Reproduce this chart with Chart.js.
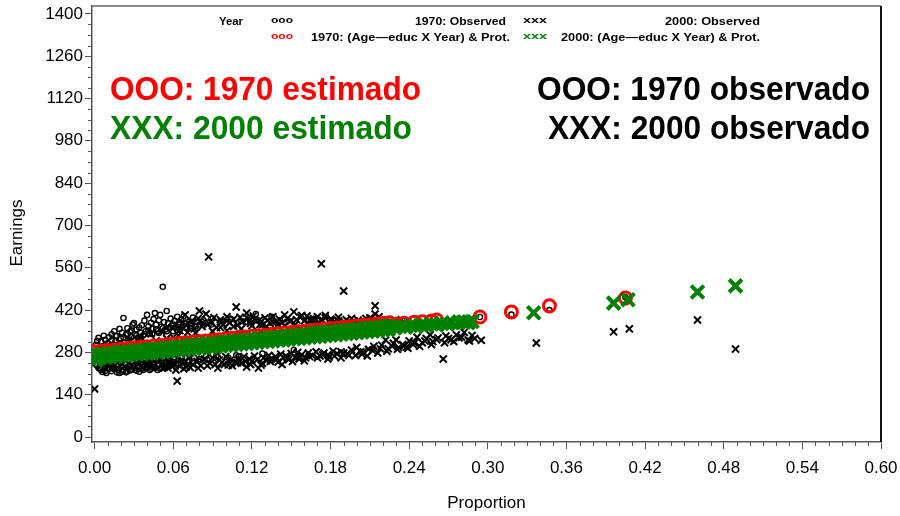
<!DOCTYPE html>
<html>
<head>
<meta charset="utf-8">
<script src="https://cdn.jsdelivr.net/npm/chart.js@4.4.1/dist/chart.umd.min.js"></script>
<style>
html, body { margin: 0; padding: 0; background: #fff; }
</style>
</head>
<body>
<canvas id="grafico" width="900" height="516"></canvas>
<script>
// Marcas dos eixos
const ticksX = [0.00, 0.06, 0.12, 0.18, 0.24, 0.30, 0.36, 0.42, 0.48, 0.54, 0.60];
const ticksY = [0, 140, 280, 420, 560, 700, 840, 980, 1120, 1260, 1400];

// 2000: (Age-educ X Year) & Prot. -- estimado (X verde)
const est2000 = [
  [0.001,254],[0.000,260],[0.002,273],[0.004,262],[0.006,275],[0.008,263],[0.010,276],[0.012,265],[0.014,278],[0.016,267],[0.018,280],
  [0.020,269],[0.022,282],[0.024,270],[0.026,283],[0.028,272],[0.030,285],[0.032,274],[0.034,287],[0.036,275],[0.038,288],
  [0.040,277],[0.042,290],[0.044,279],[0.046,292],[0.048,280],[0.050,293],[0.052,282],[0.054,295],[0.056,284],[0.058,297],
  [0.060,286],[0.062,299],[0.064,287],[0.066,300],[0.068,289],[0.070,302],[0.072,291],[0.074,304],[0.076,292],[0.078,305],
  [0.080,294],[0.082,307],[0.084,296],[0.086,309],[0.088,297],[0.090,310],[0.092,299],[0.094,312],[0.096,301],[0.098,314],
  [0.100,303],[0.102,316],[0.104,304],[0.106,317],[0.108,306],[0.110,319],[0.112,308],[0.114,321],[0.116,309],[0.118,322],
  [0.120,311],[0.122,324],[0.124,313],[0.126,326],[0.128,315],[0.130,328],[0.132,316],[0.134,329],[0.136,318],[0.138,331],
  [0.140,320],[0.142,333],[0.144,321],[0.146,334],[0.148,323],[0.150,336],[0.152,325],[0.154,338],[0.156,326],[0.158,339],
  [0.160,328],[0.162,341],[0.164,330],[0.166,343],[0.168,332],[0.170,345],[0.172,333],[0.174,346],[0.176,335],[0.178,348],
  [0.180,337],[0.182,350],[0.184,338],[0.186,351],[0.188,340],[0.190,353],[0.192,342],[0.194,355],[0.196,343],[0.198,356],
  [0.200,345],[0.202,358],[0.204,347],[0.206,360],[0.208,349],[0.210,362],[0.212,350],[0.214,363],[0.216,352],[0.218,365],
  [0.220,354],[0.222,367],[0.224,355],[0.226,368],
  [0.229,361],[0.233,366],[0.237,363],[0.241,369],[0.245,366],[0.249,371],[0.253,368],[0.257,374],[0.261,371],[0.265,376],
  [0.269,374],[0.273,378],[0.278,381],[0.282,381],[0.285,378],[0.288,382],
  [0.335,411],[0.396,443],[0.407,454],[0.460,480],[0.489,500]
];

// 1970: (Age-educ X Year) & Prot. -- estimado (O vermelho)
const est1970 = [
  [0.000,282],[0.005,284],[0.010,286],[0.015,288],[0.020,291],[0.025,293],[0.030,295],[0.035,297],[0.040,299],[0.045,301],
  [0.050,303],[0.055,305],[0.060,308],[0.065,310],[0.070,312],[0.075,314],[0.080,316],[0.085,318],[0.090,320],[0.095,322],
  [0.100,325],[0.105,327],[0.110,329],[0.115,331],[0.120,333],[0.125,335],[0.130,337],[0.135,340],[0.140,342],[0.145,344],
  [0.150,346],[0.155,348],[0.160,350],[0.165,352],[0.170,354],[0.175,357],[0.180,359],[0.185,361],[0.190,363],[0.195,365],
  [0.200,367],[0.205,369],[0.210,371],[0.215,374],[0.220,376],[0.225,378],
  [0.0025,268],[0.0125,273],[0.0225,278],[0.0325,282],[0.0425,286],[0.0525,290],[0.0625,295],[0.0725,299],[0.0825,303],
  [0.0925,307],[0.1025,312],[0.1125,316],[0.1225,320],[0.1325,324],[0.1425,329],[0.1525,333],[0.1625,337],[0.1725,341],
  [0.1825,346],[0.1925,350],[0.2025,354],[0.2125,358],
  [0.230,373],[0.236,376],[0.244,380],[0.250,381],[0.257,384],[0.261,387],
  [0.294,397],[0.318,414],[0.347,434],[0.405,460]
];

// 2000: Observed (x preto)
const obs2000 = [
  [0.000,159],[0.003,255],[0.006,290],[0.009,244],[0.012,300],[0.014,232],[0.017,270],[0.019,312],[0.021,240],[0.024,284],
  [0.026,322],[0.028,236],[0.031,296],[0.033,250],[0.035,330],[0.037,228],[0.039,306],[0.041,258],[0.043,342],[0.045,236],
  [0.047,318],[0.049,262],[0.051,350],[0.053,230],[0.055,326],[0.057,248],[0.059,362],[0.061,240],[0.063,185],[0.064,336],
  [0.066,254],[0.067,376],[0.069,404],[0.070,232],[0.071,346],[0.072,262],[0.074,384],[0.075,240],[0.076,358],[0.078,250],
  [0.079,392],[0.080,417],[0.081,236],[0.082,366],[0.084,258],[0.085,407],[0.086,372],[0.087,596],[0.088,244],[0.089,380],
  [0.090,262],[0.091,395],[0.092,240],[0.093,362],[0.095,255],[0.096,388],[0.097,246],[0.098,372],[0.100,266],[0.101,398],
  [0.102,238],[0.103,378],[0.104,256],[0.106,390],[0.107,248],[0.108,430],[0.109,370],[0.110,260],[0.111,396],[0.112,244],
  [0.113,382],[0.114,266],[0.116,232],[0.117,392],[0.118,258],[0.119,376],[0.120,250],[0.121,400],[0.122,268],[0.123,384],
  [0.125,228],[0.126,372],[0.127,238],[0.128,371],[0.129,262],[0.130,394],[0.131,252],[0.132,386],[0.133,270],[0.134,376],
  [0.135,258],[0.136,398],[0.138,266],[0.139,384],[0.140,248],[0.141,390],[0.142,274],[0.143,378],[0.144,262],[0.145,404],
  [0.146,268],[0.147,392],[0.148,256],[0.149,382],[0.150,276],[0.152,414],[0.153,264],[0.154,388],[0.155,280],[0.156,265],
  [0.157,396],[0.158,272],[0.160,384],[0.161,262],[0.162,400],[0.163,278],[0.165,390],[0.166,270],[0.168,384],[0.169,282],
  [0.170,398],[0.172,268],[0.173,573],[0.174,386],[0.175,278],[0.176,394],[0.178,272],[0.179,265],[0.180,390],[0.181,387],
  [0.182,284],[0.184,378],[0.185,276],[0.186,396],[0.188,282],[0.190,483],[0.190,278],[0.192,388],[0.194,270],[0.196,288],
  [0.198,384],[0.200,296],[0.202,380],[0.204,274],[0.205,281],[0.207,392],[0.209,290],[0.211,386],[0.213,300],[0.214,434],
  [0.214,407],[0.216,278],[0.217,398],[0.219,304],[0.222,321],[0.224,292],[0.226,382],[0.228,310],[0.230,321],[0.232,296],
  [0.234,388],[0.236,301],[0.238,298],[0.240,318],[0.243,306],[0.246,330],[0.250,312],[0.253,326],[0.256,338],[0.258,316],
  [0.262,328],[0.266,258],[0.268,334],[0.272,322],[0.276,338],[0.278,328],[0.282,346],[0.285,321],[0.288,336],
  [0.052,310],[0.056,228],[0.060,330],[0.062,222],[0.065,352],[0.068,226],[0.070,370],[0.073,230],[0.077,344],[0.079,228],
  [0.083,376],[0.086,236],[0.090,350],[0.094,228],[0.096,362],[0.099,240],[0.101,352],[0.105,236],[0.106,366],[0.109,246],
  [0.112,358],[0.115,250],[0.116,410],[0.119,240],[0.120,368],[0.124,256],[0.126,388],[0.128,244],[0.131,366],[0.134,250],
  [0.136,380],[0.138,256],[0.140,372],[0.143,240],[0.145,368],[0.147,262],[0.150,386],[0.151,250],[0.153,372],[0.156,258],
  [0.158,402],[0.160,252],[0.163,376],[0.164,266],[0.167,392],[0.170,262],[0.171,380],[0.174,272],[0.176,402],[0.178,258],
  [0.180,376],[0.183,268],[0.186,384],[0.188,262],[0.191,378],[0.193,276],[0.196,392],[0.199,270],[0.201,386],[0.203,282],
  [0.206,378],[0.208,268],[0.210,394],[0.212,286],[0.215,384],[0.218,292],[0.221,378],[0.223,284],[0.227,300],[0.231,290],
  [0.235,306],[0.239,294],[0.244,312],[0.248,300],[0.252,318],[0.257,306],[0.261,322],[0.267,312],[0.270,326],[0.274,316],
  [0.280,330],[0.286,318],[0.290,326],[0.295,320],
  [0.337,311],[0.396,348],[0.408,358],[0.460,387],[0.489,291]
];

// 1970: Observed (o preto)
const obs1970 = [
  [0.001,305],[0.002,262],[0.002,236],[0.003,328],[0.003,228],[0.004,290],[0.004,248],[0.005,316],[0.005,222],[0.006,300],
  [0.006,215],[0.007,270],[0.007,240],[0.008,322],[0.008,232],[0.009,285],[0.009,212],[0.010,310],[0.010,245],[0.011,330],
  [0.011,226],[0.012,296],[0.012,258],[0.013,340],[0.013,218],[0.014,306],[0.014,236],[0.015,350],[0.015,228],[0.016,318],
  [0.016,248],[0.017,335],[0.017,214],[0.018,300],[0.018,240],[0.019,358],[0.019,212],[0.020,326],[0.020,232],[0.021,345],
  [0.021,252],[0.022,394],[0.022,222],[0.023,312],[0.023,244],[0.024,338],[0.024,230],[0.025,360],[0.025,218],[0.026,322],
  [0.026,256],[0.027,348],[0.027,236],[0.028,330],[0.028,224],[0.029,372],[0.029,246],[0.030,377],[0.030,228],[0.031,340],
  [0.031,240],[0.032,355],[0.032,220],[0.033,328],[0.033,250],[0.034,362],[0.034,232],[0.035,345],[0.035,242],[0.036,370],
  [0.036,226],[0.037,336],[0.037,254],[0.038,385],[0.038,236],[0.039,350],[0.039,228],[0.040,404],[0.040,246],[0.041,366],
  [0.041,238],[0.042,344],[0.042,222],[0.043,378],[0.043,252],[0.044,358],[0.044,232],[0.045,390],[0.045,244],[0.046,410],
  [0.046,228],[0.047,372],[0.047,256],[0.048,350],[0.048,236],[0.049,386],[0.049,240],[0.050,404],[0.050,226],[0.051,365],
  [0.051,250],[0.052,497],[0.052,238],[0.053,380],[0.053,232],[0.054,356],[0.054,258],[0.055,417],[0.055,242],[0.056,376],
  [0.056,236],[0.057,360],[0.057,252],[0.058,392],[0.058,244],[0.059,370],[0.060,350],[0.060,248],[0.061,384],[0.062,364],
  [0.062,240],[0.063,398],[0.064,372],[0.064,256],[0.065,356],[0.066,388],[0.066,250],[0.067,366],[0.068,400],[0.068,246],
  [0.069,376],[0.070,360],[0.070,262],[0.072,382],[0.072,254],[0.074,368],[0.075,395],[0.076,262],[0.078,380],[0.080,372],
  [0.080,258],[0.083,386],[0.085,268],[0.088,378],[0.090,392],[0.093,270],[0.096,384],[0.100,376],[0.104,390],[0.108,270],
  [0.112,384],[0.118,394],[0.123,407],[0.128,276],[0.135,398],[0.145,390],[0.152,288],[0.165,387],[0.185,374],
  [0.001,240],[0.002,318],[0.003,250],[0.004,226],[0.005,296],[0.006,256],[0.007,335],[0.008,218],[0.009,264],[0.010,228],
  [0.011,300],[0.012,236],[0.013,320],[0.014,250],[0.015,224],[0.016,334],[0.017,260],[0.018,222],[0.019,310],[0.020,246],
  [0.021,216],[0.022,330],[0.023,258],[0.024,214],[0.025,342],[0.026,234],[0.027,220],[0.028,352],[0.029,232],[0.030,318],
  [0.031,222],[0.032,336],[0.033,236],[0.034,216],[0.035,326],[0.036,248],[0.037,222],[0.038,340],[0.039,254],[0.040,230],
  [0.041,352],[0.042,236],[0.043,226],[0.044,340],[0.045,254],[0.046,232],[0.047,356],[0.048,222],[0.049,344],[0.050,260],
  [0.051,230],[0.052,360],[0.053,248],[0.054,228],[0.055,350],[0.056,262],[0.057,234],[0.058,362],[0.059,244],[0.060,372],
  [0.061,258],[0.062,230],[0.063,354],[0.064,242],[0.065,380],[0.066,262],[0.067,236],[0.069,362],[0.071,250],[0.073,376],
  [0.075,244],[0.077,366],[0.079,252],[0.082,380],[0.086,256],[0.089,372],[0.094,264],[0.098,382],[0.102,262],[0.106,376],
  [0.110,266],[0.115,380],
  [0.244,372],[0.261,384],[0.294,397],[0.318,405],[0.347,420],[0.405,462]
];

const paraPontos = lista => lista.map(p => ({ x: p[0], y: p[1] }));

// escreve um texto comprimido na horizontal até a largura pedida
function textoAjustado(ctx, txt, x, y, largura, align) {
  const w = ctx.measureText(txt).width;
  ctx.save();
  ctx.translate(x, y);
  ctx.scale(largura / w, 1);
  ctx.textAlign = align;
  ctx.fillText(txt, 0, 0);
  ctx.restore();
}

// moldura, marcas menores, legenda SAS e anotações grandes
const extras = {
  id: 'extras',
  afterDraw(chart) {
    const ctx = chart.ctx;
    const area = chart.chartArea;
    const sx = chart.scales.x, sy = chart.scales.y;
    ctx.save();
    ctx.strokeStyle = '#555';
    ctx.lineWidth = 1;
    ctx.beginPath();
    for (let v = 35; v < 1400; v += 35) {
      if (v % 140 === 0) continue;
      const py = Math.round(sy.getPixelForValue(v)) + 0.5;
      ctx.moveTo(area.left - 4, py); ctx.lineTo(area.left, py);
    }
    for (let i = 1; i < 60; i++) {
      if (i % 6 === 0) continue;
      const px = Math.round(sx.getPixelForValue(i / 100)) + 0.5;
      ctx.moveTo(px, area.bottom); ctx.lineTo(px, area.bottom + 4);
    }
    ctx.stroke();
    ctx.lineWidth = 1.5;
    ctx.strokeStyle = '#666';
    ctx.beginPath();
    ctx.moveTo(area.left, area.top); ctx.lineTo(area.right, area.top);
    ctx.stroke();
    ctx.strokeStyle = '#111';
    ctx.lineWidth = 2;
    ctx.beginPath();
    ctx.moveTo(area.right, area.top); ctx.lineTo(area.right, area.bottom);
    ctx.stroke();

    // legenda
    ctx.textBaseline = 'alphabetic';
    ctx.font = 'bold 11px "Liberation Sans", Arial, sans-serif';
    ctx.fillStyle = '#000';
    textoAjustado(ctx, 'Year', 219, 25, 24, 'left');
    textoAjustado(ctx, '1970: Observed', 506, 25, 91, 'right');
    textoAjustado(ctx, '2000: Observed', 760, 25, 95, 'right');
    textoAjustado(ctx, '1970: (Age\u2014educ X Year) & Prot.', 311, 41, 199, 'left');
    textoAjustado(ctx, '2000: (Age\u2014educ X Year) & Prot.', 561, 41, 199, 'left');
    ctx.font = 'bold 9px "Liberation Sans", Arial, sans-serif';
    textoAjustado(ctx, 'ooo', 271, 23, 22, 'left');
    textoAjustado(ctx, 'xxx', 523, 23, 24, 'left');
    ctx.fillStyle = '#ff0000';
    textoAjustado(ctx, 'ooo', 271, 39, 22, 'left');
    ctx.fillStyle = '#008000';
    textoAjustado(ctx, 'xxx', 523, 39, 24, 'left');

    // anotações
    ctx.font = 'bold 34px "Liberation Sans", Arial, sans-serif';
    ctx.fillStyle = '#ff0000';
    textoAjustado(ctx, 'OOO: 1970 estimado', 110, 100, 311, 'left');
    ctx.fillStyle = '#008000';
    textoAjustado(ctx, 'XXX: 2000 estimado', 110, 139, 302, 'left');
    ctx.fillStyle = '#000';
    textoAjustado(ctx, 'OOO: 1970 observado', 870, 100, 333, 'right');
    textoAjustado(ctx, 'XXX: 2000 observado', 870, 139, 322, 'right');

    // títulos dos eixos
    ctx.font = '17px "Liberation Sans", Arial, sans-serif';
    ctx.textAlign = 'center';
    ctx.textBaseline = 'middle';
    ctx.fillText('Proportion', (area.left + area.right) / 2, 503);
    ctx.translate(17, 233);
    ctx.rotate(-Math.PI / 2);
    ctx.fillText('Earnings', 0, 0);
    ctx.restore();
  }
};

const grafico = new Chart(document.getElementById('grafico').getContext('2d'), {
  type: 'scatter',
  data: {
    datasets: [
      { label: '2000: (Age-educ X Year) & Prot.', data: paraPontos(est2000), pointStyle: 'crossRot',
        pointRadius: 9, borderColor: '#008000', backgroundColor: '#008000', borderWidth: 4 },
      { label: '1970: (Age-educ X Year) & Prot.', data: paraPontos(est1970), pointStyle: 'circle',
        pointRadius: 6, borderColor: '#ff0000', backgroundColor: 'rgba(0,0,0,0)', borderWidth: 3 },
      { label: '2000: Observed', data: paraPontos(obs2000), pointStyle: 'crossRot',
        pointRadius: 5, borderColor: '#000', backgroundColor: '#000', borderWidth: 2 },
      { label: '1970: Observed', data: paraPontos(obs1970), pointStyle: 'circle',
        pointRadius: 2.6, borderColor: '#000', backgroundColor: 'rgba(0,0,0,0)', borderWidth: 1.4 }
    ]
  },
  options: {
    responsive: false,
    animation: false,
    events: [],
    layout: { autoPadding: false, padding: { left: 0, top: 6, right: 19, bottom: 0 } },
    plugins: { legend: { display: false }, tooltip: { enabled: false } },
    scales: {
      x: {
        type: 'linear', min: -0.002, max: 0.6,
        afterBuildTicks: s => { s.ticks = ticksX.map(v => ({ value: v })); },
        afterFit: s => { s.height = 74; s.paddingLeft = 0; s.paddingRight = 0; },
        grid: { drawOnChartArea: false, tickLength: 7, color: '#555' },
        border: { color: '#555', width: 1.5 },
        ticks: { font: { size: 17, family: '"Liberation Sans", Arial, sans-serif' }, color: '#000', padding: 9,
                 maxRotation: 0, autoSkip: false, callback: v => v.toFixed(2) }
      },
      y: {
        type: 'linear', min: -16.5, max: 1426,
        afterBuildTicks: s => { s.ticks = ticksY.map(v => ({ value: v })); },
        afterFit: s => { s.width = 92; s.paddingTop = 0; s.paddingBottom = 0; },
        grid: { drawOnChartArea: false, tickLength: 7, color: '#555' },
        border: { color: '#555', width: 1.5 },
        ticks: { font: { size: 17, family: '"Liberation Sans", Arial, sans-serif' }, color: '#000', padding: 2,
                 callback: v => String(v) }
      }
    }
  },
  plugins: [extras]
});
</script>
</body>
</html>
